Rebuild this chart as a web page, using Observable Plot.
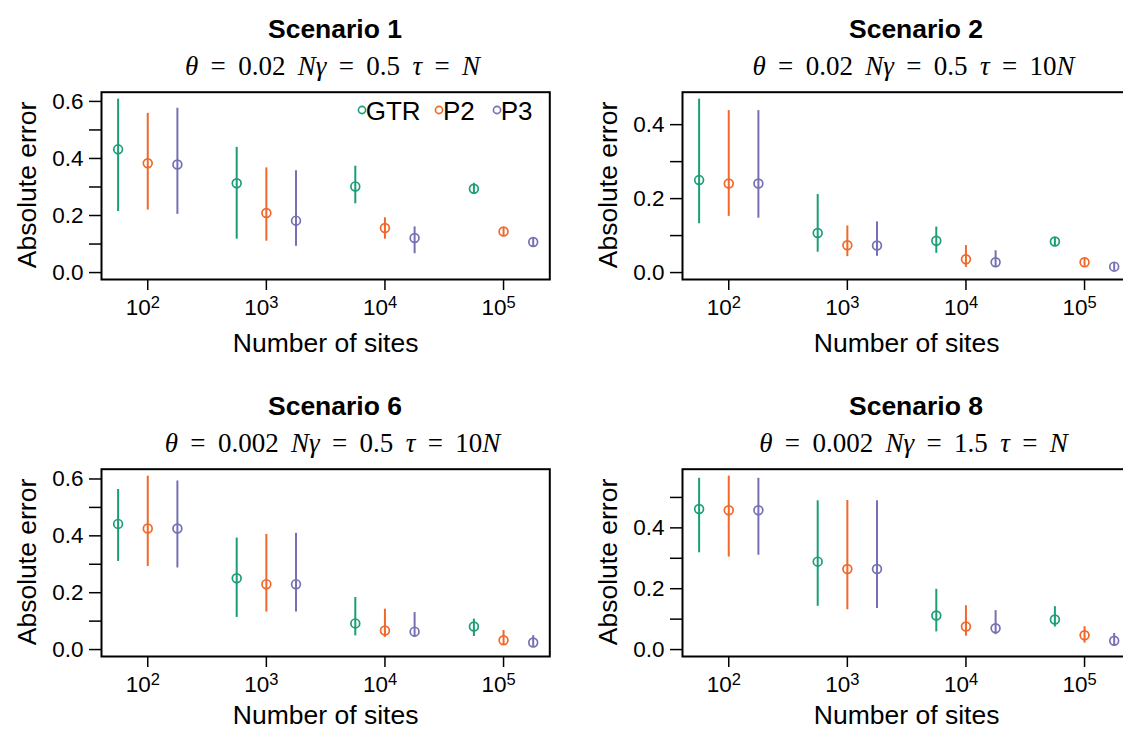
<!DOCTYPE html>
<html><head><meta charset="utf-8">
<script src="https://cdn.jsdelivr.net/npm/d3@7"></script>
<script src="https://cdn.jsdelivr.net/npm/@observablehq/plot@0.6"></script>
<style>
html,body{margin:0;padding:0;background:#fff;}
#root{position:relative;width:1123px;height:730px;overflow:hidden;font-family:"Liberation Sans",Arial,sans-serif;color:#000;}
.panel{position:absolute;width:581px;height:378px;}
.title{position:absolute;left:0;width:670px;top:13.5px;text-align:center;font-weight:bold;font-size:26.5px;line-height:30px;white-space:nowrap;}
.subtitle{position:absolute;left:0;width:665px;top:51.9px;text-align:center;font-family:"Liberation Serif","DejaVu Serif",serif;font-size:27px;line-height:28px;white-space:nowrap;}
.subtitle i{font-style:italic;}
.ylab{position:absolute;width:300px;left:-123.2px;top:170px;height:30px;line-height:30px;font-size:26.5px;text-align:center;transform:rotate(-90deg);white-space:nowrap;}
.plot{position:absolute;left:0;top:80px;}
.leg-dot{position:absolute;width:12px;height:12px;}
.leg-txt{position:absolute;font-size:26px;line-height:25px;white-space:nowrap;}
</style>
</head><body><div id="root"></div>
<script>
// ---------- data ----------
const sites = [100, 1000, 10000, 100000];
const methods = ["GTR", "P2", "P3"];
const colors = ["#1b9e77", "#f0682a", "#7570b3"];

const scenarioNames = ["Scenario 1", "Scenario 2", "Scenario 6", "Scenario 8"];
const thetaValues = ["0.02", "0.02", "0.002", "0.002"];
const NgammaValues = ["0.5", "0.5", "0.5", "1.5"];
const tauValues = ["N", "10N", "10N", "N"];
const xLabel = "Number of sites";
const yLabel = "Absolute error";

// rows: GTR, P2, P3 ; columns: sites
const s1Mean = [[0.432, 0.313, 0.302, 0.294], [0.383, 0.209, 0.156, 0.144], [0.379, 0.182, 0.121, 0.107]];
const s1Lo   = [[0.214, 0.117, 0.241, 0.274], [0.219, 0.110, 0.117, 0.130], [0.204, 0.092, 0.066, 0.090]];
const s1Hi   = [[0.608, 0.439, 0.373, 0.313], [0.558, 0.367, 0.192, 0.156], [0.576, 0.357, 0.160, 0.122]];

const s2Mean = [[0.250, 0.107, 0.086, 0.084], [0.241, 0.074, 0.036, 0.028], [0.241, 0.073, 0.028, 0.016]];
const s2Lo   = [[0.132, 0.055, 0.052, 0.073], [0.152, 0.043, 0.014, 0.017], [0.147, 0.044, 0.014, 0.005]];
const s2Hi   = [[0.469, 0.211, 0.123, 0.093], [0.438, 0.126, 0.073, 0.039], [0.438, 0.137, 0.059, 0.025]];

const s6Mean = [[0.442, 0.251, 0.092, 0.081], [0.426, 0.230, 0.067, 0.033], [0.426, 0.230, 0.063, 0.025]];
const s6Lo   = [[0.310, 0.113, 0.048, 0.046], [0.292, 0.132, 0.043, 0.016], [0.287, 0.132, 0.043, 0.011]];
const s6Hi   = [[0.563, 0.392, 0.183, 0.107], [0.610, 0.405, 0.142, 0.067], [0.593, 0.409, 0.130, 0.049]];

const s8Mean = [[0.462, 0.289, 0.112, 0.099], [0.458, 0.265, 0.076, 0.047], [0.458, 0.265, 0.070, 0.029]];
const s8Lo   = [[0.318, 0.142, 0.058, 0.074], [0.304, 0.131, 0.044, 0.021], [0.310, 0.135, 0.049, 0.013]];
const s8Hi   = [[0.563, 0.489, 0.198, 0.141], [0.570, 0.490, 0.144, 0.075], [0.563, 0.489, 0.128, 0.053]];

const yMajorTicks = [0, 0.2, 0.4, 0.6];
const yMinorTicks = [0.1, 0.3, 0.5];

// ---------- layout ----------
const dodge = [-0.25, 0, 0.25]; // log10 offset per method
const panelPos = [[0, 0], [581, 0], [0, 377], [581, 377]];
const xLabelDy = [72.5, 72.5, 67, 67];
const root = document.getElementById("root");

function makePanel(k, mean, lo, hi) {
  const rows = [];
  methods.forEach((m, j) => sites.forEach((s, i) => rows.push({
    method: m, x: s * Math.pow(10, dodge[j]), mean: mean[j][i], lo: lo[j][i], hi: hi[j][i]
  })));
  const ymax = d3.max(rows, d => d.hi);
  const yDomain = [-0.04 * ymax, 1.04 * ymax];
  const [a, b] = d3.extent(rows, d => Math.log10(d.x));
  const pad = 0.04 * (b - a);
  const xDomain = [Math.pow(10, a - pad), Math.pow(10, b + pad)];
  const inDom = t => t >= yDomain[0] && t <= yDomain[1];

  const svg = Plot.plot({
    width: 581, height: 280,
    marginLeft: 101, marginRight: 31.7, marginTop: 11.7, marginBottom: 81,
    x: {type: "log", domain: xDomain},
    y: {domain: yDomain},
    color: {domain: methods, range: colors},
    style: {fontFamily: '"Liberation Sans", Arial, sans-serif', fontSize: "22px", color: "#000", background: "transparent", overflow: "visible"},
    marks: [
      Plot.axisY({ticks: yMajorTicks.filter(inDom), tickFormat: d3.format(".1f"), tickSize: 12, tickPadding: 6, fontSize: 22.5, label: null, strokeWidth: 1.5}),
      Plot.axisY({ticks: yMinorTicks.filter(inDom), tickFormat: () => "", tickSize: 12, label: null, strokeWidth: 1.5}),
      Plot.axisX({ticks: sites, tickFormat: () => "", tickSize: 11, label: null, strokeWidth: 1.5}),
      Plot.text(sites, {x: d => d, frameAnchor: "bottom", text: () => "10", textAnchor: "end", lineAnchor: "bottom", dx: 3, dy: 35, fontSize: 22.5}),
      Plot.text(sites, {x: d => d, frameAnchor: "bottom", text: d => String(Math.round(Math.log10(d))), textAnchor: "start", lineAnchor: "bottom", dx: 3, dy: 28, fontSize: 16.5}),
      Plot.ruleX(rows, {x: "x", y1: "lo", y2: "hi", stroke: "method", strokeWidth: 2}),
      Plot.dot(rows, {x: "x", y: "mean", r: 4.4, stroke: "method", fill: "none", strokeWidth: 1.7}),
      Plot.frame({stroke: "#000", strokeWidth: 2}),
      Plot.text([xLabel], {frameAnchor: "bottom", text: d => d, lineAnchor: "bottom", dy: xLabelDy[k], fontSize: 26.5})
    ]
  });

  const p = document.createElement("div");
  p.className = "panel";
  p.style.left = panelPos[k][0] + "px";
  p.style.top = panelPos[k][1] + "px";
  const t = document.createElement("div");
  t.className = "title";
  t.textContent = scenarioNames[k];
  p.appendChild(t);
  const st = document.createElement("div");
  st.className = "subtitle";
  const tau = tauValues[k].replace("N", "");
  st.innerHTML = `<span class="m"><i>θ</i> = ${thetaValues[k]} <i>N</i><i>γ</i> = ${NgammaValues[k]} <i>τ</i> = ${tau}<i>N</i></span>`;
  p.appendChild(st);
  svg.classList.add("plot");
  p.appendChild(svg);
  const yl = document.createElement("div");
  yl.className = "ylab";
  yl.textContent = yLabel;
  p.appendChild(yl);
  root.appendChild(p);
  return p;
}

const p1 = makePanel(0, s1Mean, s1Lo, s1Hi);
makePanel(1, s2Mean, s2Lo, s2Hi);
makePanel(2, s6Mean, s6Lo, s6Hi);
makePanel(3, s8Mean, s8Lo, s8Hi);

// widen math spacing so the first subtitle spans ~295px, like the reference
const spans = document.querySelectorAll(".subtitle .m");
const w0 = spans[0].getBoundingClientRect().width;
const ws = Math.max(0, (295 - w0) / 8);
spans.forEach(s => s.style.wordSpacing = ws + "px");

// legend in panel 1
const legX = [361.7, 439, 496.7];
methods.forEach((m, j) => {
  const ns = "http://www.w3.org/2000/svg";
  const dot = document.createElementNS(ns, "svg");
  dot.setAttribute("class", "leg-dot");
  dot.setAttribute("width", 12); dot.setAttribute("height", 12);
  dot.style.left = (legX[j] - 6) + "px";
  dot.style.top = (110 - 6) + "px";
  const c = document.createElementNS(ns, "circle");
  c.setAttribute("cx", 6); c.setAttribute("cy", 6); c.setAttribute("r", 3.6);
  c.setAttribute("fill", "none"); c.setAttribute("stroke", colors[j]); c.setAttribute("stroke-width", 1.6);
  dot.appendChild(c);
  p1.appendChild(dot);
  const tx = document.createElement("div");
  tx.className = "leg-txt";
  tx.textContent = m;
  tx.style.left = (legX[j] + 4) + "px";
  tx.style.top = "98.5px";
  p1.appendChild(tx);
});
</script>
</body></html>
